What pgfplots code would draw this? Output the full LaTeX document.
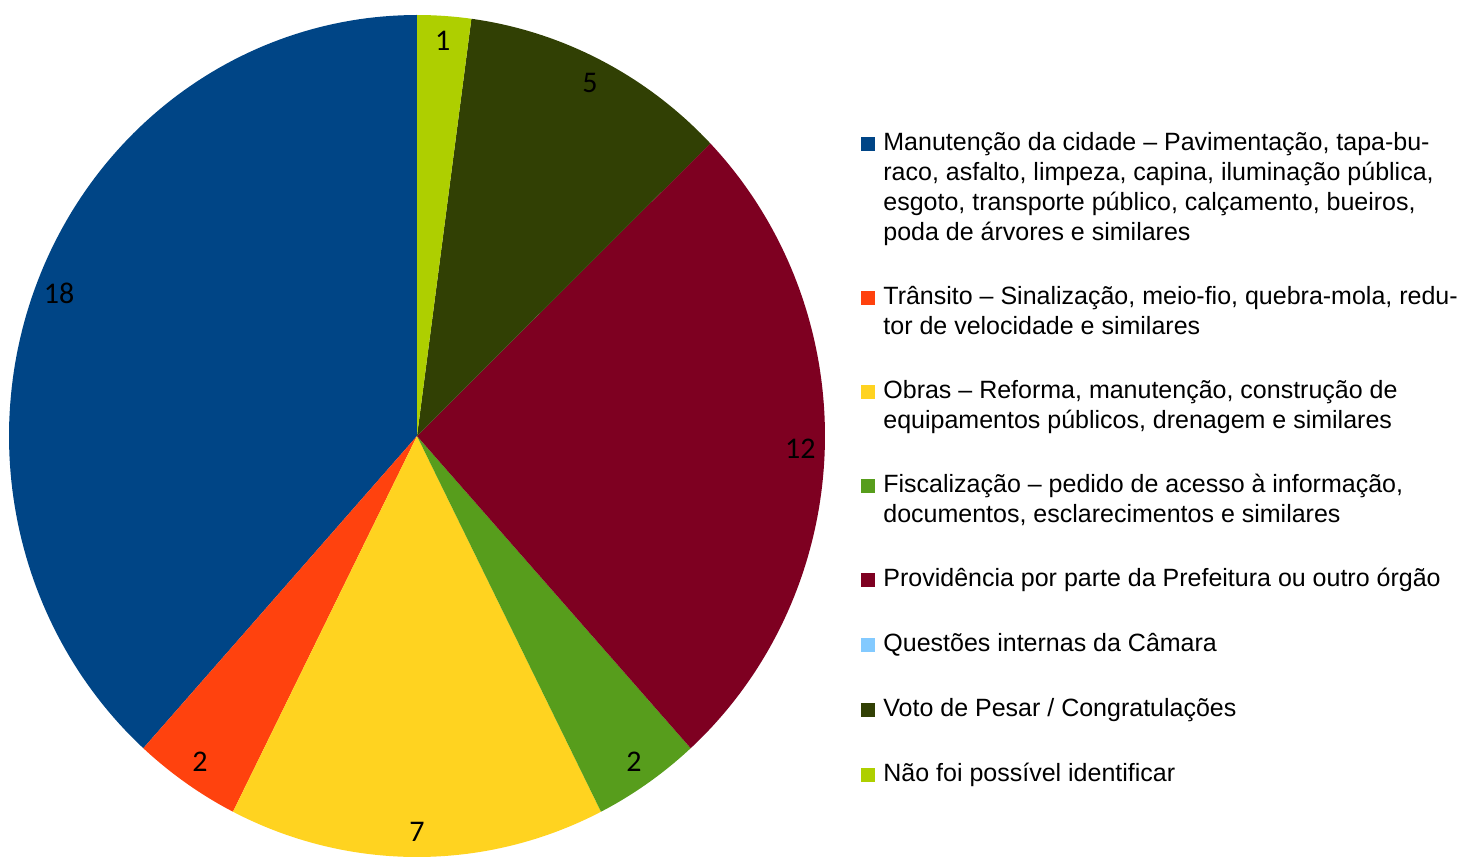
\documentclass[border=0pt]{standalone}
\usepackage{fontspec}
\setmainfont{Liberation Sans}
\newfontfamily\labfont{Carlito}
\usepackage{pgfplots}
\pgfplotsset{compat=1.18}
\definecolor{c1}{HTML}{004586}
\definecolor{c2}{HTML}{FF420E}
\definecolor{c3}{HTML}{FFD320}
\definecolor{c4}{HTML}{579D1C}
\definecolor{c5}{HTML}{7E0021}
\definecolor{c6}{HTML}{83CAFF}
\definecolor{c7}{HTML}{314004}
\definecolor{c8}{HTML}{AECF00}
% values (counter-clockwise from 12 o'clock)
\def\vA{18}% Manutencao
\def\vB{2}% Transito
\def\vC{7}% Obras
\def\vD{2}% Fiscalizacao
\def\vE{12}% Providencia
\def\vF{0}% Questoes internas
\def\vG{5}% Voto
\def\vH{1}% Nao foi possivel
\newcommand\slice[3]{%
  \addplot[draw=none, fill=#3, domain=#1:#2, samples=120, variable=\t]
    ({cos(\t)},{sin(\t)}) -- (axis cs:0,0) -- cycle;}
\newcommand\plabel[3]{%
  \pgfmathsetmacro\midang{(#1+#2)/2}%
  \pgfmathsetmacro\lx{0.94*cos(\midang)}%
  \pgfmathsetmacro\ly{0.94*sin(\midang)}%
  \edef\tmp{\noexpand\node[font=\noexpand\labfont\noexpand\fontsize{15}{15}\noexpand\selectfont, anchor=center]
    at (axis cs:\lx,\ly) {#3};}\tmp}
\begin{document}
\begin{tikzpicture}
\path[use as bounding box] (0,0) rectangle (734.5pt,428.5pt);
\pgfmathsetmacro\tot{\vA+\vB+\vC+\vD+\vE+\vF+\vG+\vH}
\pgfmathsetmacro\aA{90}
\pgfmathsetmacro\aB{\aA+360*\vA/\tot}
\pgfmathsetmacro\aC{\aB+360*\vB/\tot}
\pgfmathsetmacro\aD{\aC+360*\vC/\tot}
\pgfmathsetmacro\aE{\aD+360*\vD/\tot}
\pgfmathsetmacro\aF{\aE+360*\vE/\tot}
\pgfmathsetmacro\aG{\aF+360*\vF/\tot}
\pgfmathsetmacro\aH{\aG+360*\vG/\tot}
\pgfmathsetmacro\aI{\aH+360*\vH/\tot}
\begin{axis}[at={(208.5pt,210.5pt)}, anchor=center,
  width=408pt, height=421pt, scale only axis,
  xmin=-1, xmax=1, ymin=-1, ymax=1, hide axis, clip=false]
\slice{\aA}{\aB}{c1}
\slice{\aB}{\aC}{c2}
\slice{\aC}{\aD}{c3}
\slice{\aD}{\aE}{c4}
\slice{\aE}{\aF}{c5}
\slice{\aG}{\aH}{c7}
\slice{\aH}{\aI}{c8}
\plabel{\aA}{\aB}{18}
\plabel{\aB}{\aC}{2}
\plabel{\aC}{\aD}{7}
\plabel{\aD}{\aE}{2}
\plabel{\aE}{\aF}{12}
\plabel{\aG}{\aH}{5}
\plabel{\aH}{\aI}{1}
\end{axis}
\tikzset{lt/.style={anchor=base west, inner sep=0pt, font=\fontsize{12.5}{15}\selectfont}}
\newcommand\mk[2]{\fill[#1] (430.5pt,#2) rectangle ++(7pt,7pt);}
\def\tx{441.5pt}
\mk{c1}{353pt}
\node[lt] at (\tx,353pt) {Manutenção da cidade – Pavimentação, tapa-bu-};
\node[lt] at (\tx,338pt) {raco, asfalto, limpeza, capina, iluminação pública,};
\node[lt] at (\tx,323pt) {esgoto, transporte público, calçamento, bueiros,};
\node[lt] at (\tx,308pt) {poda de árvores e similares};
\mk{c2}{276pt}
\node[lt] at (\tx,276pt) {Trânsito – Sinalização, meio-fio, quebra-mola, redu-};
\node[lt] at (\tx,261pt) {tor de velocidade e similares};
\mk{c3}{229pt}
\node[lt] at (\tx,229pt) {Obras – Reforma, manutenção, construção de};
\node[lt] at (\tx,214pt) {equipamentos públicos, drenagem e similares};
\mk{c4}{182pt}
\node[lt] at (\tx,182pt) {Fiscalização – pedido de acesso à informação,};
\node[lt] at (\tx,167pt) {documentos, esclarecimentos e similares};
\mk{c5}{135pt}
\node[lt] at (\tx,135pt) {Providência por parte da Prefeitura ou outro órgão};
\mk{c6}{102.5pt}
\node[lt] at (\tx,102.5pt) {Questões internas da Câmara};
\mk{c7}{70pt}
\node[lt] at (\tx,70pt) {Voto de Pesar / Congratulações};
\mk{c8}{37.5pt}
\node[lt] at (\tx,37.5pt) {Não foi possível identificar};
\end{tikzpicture}
\end{document}
